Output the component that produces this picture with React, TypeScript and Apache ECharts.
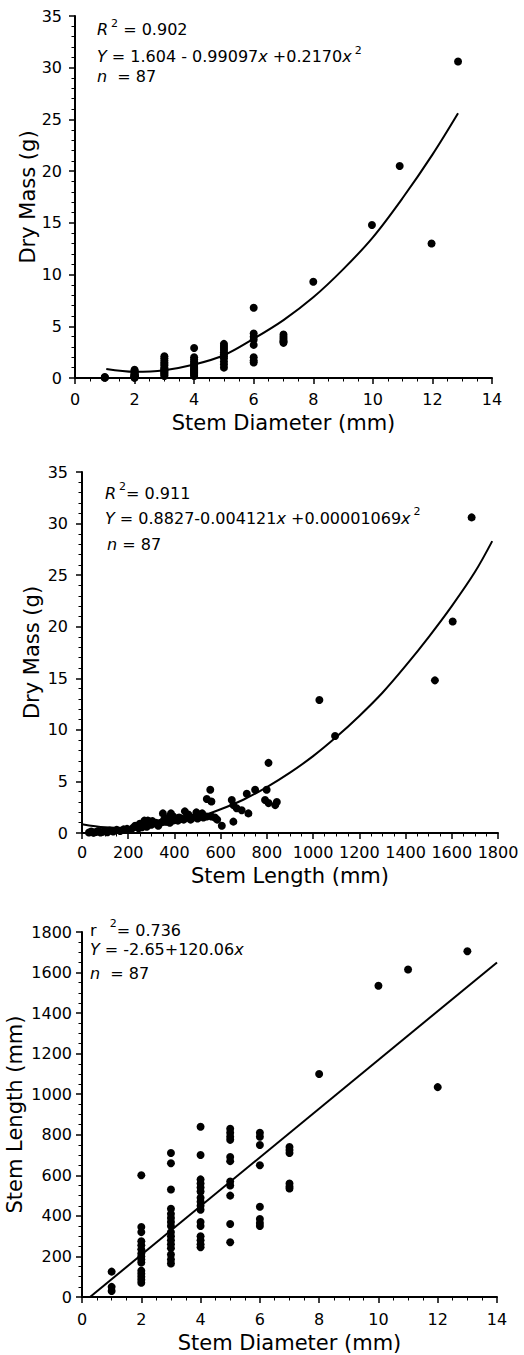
import React, { useEffect, useRef } from "react";
import * as echarts from "echarts";

const FONT = "DejaVu Sans";
const INK = "#000000";

// ---------- Panel 1: Dry mass vs stem diameter ----------
const p1Diameter = [
  1, 1, 1,
  2, 2, 2, 2, 2, 2, 2, 2, 2, 2, 2, 2, 2, 2, 2,
  3, 3, 3, 3, 3, 3, 3, 3, 3, 3, 3, 3, 3, 3, 3,
  4, 4, 4, 4, 4, 4, 4, 4, 4, 4, 4, 4, 4, 4, 4, 4,
  5, 5, 5, 5, 5, 5, 5, 5, 5, 5, 5,
  6, 6, 6, 6, 6, 6, 6, 6,
  7, 7, 7, 7, 7, 7,
  8, 9.97, 10.9, 11.97, 12.86,
];
const p1Mass = [
  0.1, 0.05, 0.03,
  0.8, 0.7, 0.6, 0.5, 0.4, 0.35, 0.3, 0.25, 0.2, 0.15, 0.12, 0.1, 0.08, 0.05, 0.03,
  2.1, 1.9, 1.7, 1.5, 1.35, 1.2, 1.0, 0.9, 0.8, 0.7, 0.6, 0.5, 0.4, 0.3, 0.2,
  2.9, 2.0, 1.8, 1.6, 1.45, 1.3, 1.15, 1.0, 0.9, 0.8, 0.7, 0.6, 0.5, 0.4, 0.3, 0.2,
  3.3, 3.1, 2.9, 2.7, 2.5, 2.3, 2.1, 1.9, 1.6, 1.3, 1.0,
  6.8, 4.3, 4.0, 3.7, 3.2, 2.0, 1.7, 1.5,
  4.2, 4.0, 3.8, 3.6, 3.5, 3.4,
  9.3, 14.8, 20.5, 13.0, 30.6,
];
const p1FitDiameter = [1.05, 2, 3, 4, 5, 6, 7, 8, 9, 10, 11, 12, 12.86];
const p1FitMass = [0.87, 0.6, 0.75, 1.3, 2.2, 3.8, 5.6, 7.8, 10.5, 13.6, 17.4, 21.6, 25.6];

// ---------- Panel 2: Dry mass vs stem length ----------
const p2Length = [
  30, 40, 50, 60, 70, 80, 90, 100, 110, 120, 135, 150, 165, 180, 195, 210, 220, 235, 245, 255,
  265, 275, 285, 295, 300, 315, 330, 350, 365, 375, 385, 400, 415, 430, 445, 455, 470, 480, 495, 510,
  525, 540, 555, 540, 560, 575, 585, 605, 648, 655, 669, 691, 720, 655, 713, 749, 799, 792, 807, 843,
  836, 807, 1027, 1095, 1527, 1604, 1686,
  230, 250, 260, 270, 280, 290, 305, 320, 340, 355, 380, 395, 420, 440, 460, 500, 520, 560,
];
const p2Mass = [
  0.05, 0.15, 0.02, 0.1, 0.2, 0.05, 0.12, 0.2, 0.08, 0.25, 0.15, 0.3, 0.2, 0.35, 0.4, 0.3, 0.5, 0.6, 0.45, 0.7,
  0.9, 1.0, 1.2, 1.1, 0.8, 0.95, 0.7, 1.9, 1.1, 1.5, 1.9, 1.3, 1.2, 1.4, 2.1, 1.6, 1.3, 1.5, 2.0, 1.75,
  1.5, 1.6, 4.2, 3.3, 3.05, 1.5, 1.3, 0.7, 3.2, 2.7, 2.4, 2.2, 1.9, 1.1, 3.8, 4.2, 4.2, 3.2, 2.9, 3.0,
  2.7, 6.8, 12.9, 9.4, 14.8, 20.5, 30.6,
  0.7, 0.9, 0.55, 1.2, 0.6, 0.9, 1.15, 1.0, 1.0, 1.3, 1.0, 1.6, 1.5, 1.3, 1.8, 1.4, 1.9, 1.6,
];
const p2FitLength = [0, 100, 200, 300, 400, 500, 600, 700, 800, 900, 1000, 1100, 1200, 1300, 1400, 1500, 1600, 1700, 1775];
const p2FitMass = [0.85, 0.55, 0.5, 0.65, 0.95, 1.5, 2.3, 3.25, 4.45, 5.85, 7.45, 9.3, 11.35, 13.6, 16.2, 19.0, 22.0, 25.3, 28.3];

// ---------- Panel 3: Stem length vs stem diameter ----------
const p3Diameter = [
  1, 1, 1,
  2, 2, 2, 2, 2, 2, 2, 2, 2, 2, 2, 2, 2, 2, 2,
  3, 3, 3, 3, 3, 3, 3, 3, 3, 3, 3, 3, 3, 3, 3, 3,
  4, 4, 4, 4, 4, 4, 4, 4, 4, 4, 4, 4, 4, 4, 4, 4,
  5, 5, 5, 5, 5, 5, 5, 5, 5, 5, 5,
  6, 6, 6, 6, 6, 6, 6, 6,
  7, 7, 7, 7, 7, 7,
  8, 10, 11, 12, 13,
];
const p3Length = [
  125, 50, 30,
  600, 345, 320, 275, 255, 235, 215, 200, 185, 170, 130, 115, 100, 85, 70,
  710, 660, 530, 435, 410, 390, 370, 350, 320, 300, 280, 260, 240, 210, 185, 165,
  840, 700, 580, 560, 540, 520, 490, 470, 450, 430, 370, 350, 300, 280, 260, 245,
  830, 810, 790, 775, 690, 670, 570, 550, 500, 360, 270,
  810, 790, 750, 650, 445, 385, 365, 350,
  740, 725, 710, 560, 545, 535,
  1100, 1535, 1615, 1035, 1705,
];
const p3FitDiameter = [0.27, 14];
const p3FitLength = [0, 1650];

// ---------- Tick labels ----------
const diameterTicks = [0, 2, 4, 6, 8, 10, 12, 14];
const lengthTicks = [0, 200, 400, 600, 800, 1000, 1200, 1400, 1600, 1800];
const massTicks = [0, 5, 10, 15, 20, 25, 30, 35];

// ---------- Annotations (rich text) ----------
const p1Notes = [
  "{i|R}{s|2}{t| = 0.902}",
  "{i|Y}{t| = 1.604 - 0.99097}{i|x}{t| +0.2170}{i|x}{s|2}",
  "{i|n}{t|  = 87}",
];
const p2Notes = [
  "{i|R}{s|2}{t|= 0.911}",
  "{i|Y}{t| = 0.8827-0.004121}{i|x}{t| +0.00001069}{i|x}{s|2}",
  "{i|n}{t| = 87}",
];
const p3Notes = [
  "{t|r  }{s|2}{t|= 0.736}",
  "{i|Y}{t| = -2.65+120.06}{i|x}",
  "{i|n}{t|  = 87}",
];

const zip = (xs: number[], ys: number[]) => xs.map((x, i) => [x, ys[i]]);

const RICH = {
  t: { fontFamily: FONT, fontSize: 16, lineHeight: 24, fill: INK },
  i: { fontFamily: FONT, fontSize: 16, fontStyle: "italic", lineHeight: 24, fill: INK },
  s: { fontFamily: FONT, fontSize: 11, lineHeight: 12, verticalAlign: "top", fill: INK, padding: [0, 0, 0, 3] },
};

function note(x: number, y: number, text: string) {
  return {
    type: "text",
    x,
    y,
    silent: true,
    z: 10,
    style: { text, align: "left", verticalAlign: "top", fill: INK, font: `16px "${FONT}"`, rich: RICH },
  };
}

function axisCommon(ticks: number[], name: string, nameGap: number, labelMargin: number, minorSplit: number) {
  return {
    type: "value",
    min: ticks[0],
    max: ticks[ticks.length - 1],
    interval: ticks[1] - ticks[0],
    name,
    nameLocation: "middle",
    nameGap,
    nameMoveOverlap: false,
    nameTextStyle: { fontFamily: FONT, fontSize: 21, color: INK },
    axisLine: { show: true, onZero: false, lineStyle: { color: INK, width: 2 } },
    axisTick: { show: true, inside: false, length: 6, lineStyle: { color: INK, width: 1.5 } },
    minorTick: { show: true, splitNumber: minorSplit, length: 3.5, lineStyle: { color: INK, width: 1 } },
    axisLabel: {
      show: true,
      fontFamily: FONT,
      fontSize: 16,
      color: INK,
      margin: labelMargin,
      formatter: (v: number) => String(v),
    },
    splitLine: { show: false },
    minorSplitLine: { show: false },
  };
}

function scatter(idx: number, data: number[][]) {
  return {
    type: "scatter",
    xAxisIndex: idx,
    yAxisIndex: idx,
    data,
    symbol: "circle",
    symbolSize: 8,
    itemStyle: { color: INK, opacity: 1 },
    silent: true,
    z: 3,
  };
}

function fit(idx: number, data: number[][], smooth: boolean) {
  return {
    type: "line",
    xAxisIndex: idx,
    yAxisIndex: idx,
    data,
    smooth: smooth ? 0.35 : false,
    showSymbol: false,
    symbol: "none",
    lineStyle: { color: INK, width: 2 },
    silent: true,
    z: 2,
  };
}

export default function App() {
  const ref = useRef<HTMLDivElement>(null);

  useEffect(() => {
    if (!ref.current) return;
    const chart = echarts.init(ref.current, null, { renderer: "svg" });
    const gridBase = { containLabel: false, outerBoundsMode: "none" };
    const option = {
      animation: false,
      backgroundColor: "#ffffff",
      textStyle: { fontFamily: FONT },
      grid: [
        { ...gridBase, left: 75, top: 16, width: 417, height: 362 },
        { ...gridBase, left: 82, top: 472, width: 416, height: 361 },
        { ...gridBase, left: 82, top: 932, width: 415, height: 365 },
      ],
      xAxis: [
        { ...axisCommon(diameterTicks, "Stem Diameter (mm)", 34, 13, 4), gridIndex: 0 },
        { ...axisCommon(lengthTicks, "Stem Length (mm)", 32, 11, 4), gridIndex: 1 },
        { ...axisCommon(diameterTicks, "Stem Diameter (mm)", 35, 14, 4), gridIndex: 2 },
      ],
      yAxis: [
        { ...axisCommon(massTicks, "Dry Mass (g)", 37, 13, 5), gridIndex: 0 },
        { ...axisCommon(massTicks, "Dry Mass (g)", 40, 14, 5), gridIndex: 1 },
        { ...axisCommon(lengthTicks, "Stem Length (mm)", 57, 10, 4), gridIndex: 2 },
      ],
      series: [
        scatter(0, zip(p1Diameter, p1Mass)),
        fit(0, zip(p1FitDiameter, p1FitMass), true),
        scatter(1, zip(p2Length, p2Mass)),
        fit(1, zip(p2FitLength, p2FitMass), true),
        scatter(2, zip(p3Diameter, p3Length)),
        fit(2, zip(p3FitDiameter, p3FitLength), false),
      ],
      graphic: [
        note(97, 17.5, p1Notes[0]),
        note(97, 44.5, p1Notes[1]),
        note(97, 64.5, p1Notes[2]),
        note(105, 481, p2Notes[0]),
        note(105, 506, p2Notes[1]),
        note(107, 532.5, p2Notes[2]),
        note(90, 918, p3Notes[0]),
        note(90, 937.5, p3Notes[1]),
        note(90, 961.5, p3Notes[2]),
      ],
    };
    chart.setOption(option as any);
    return () => chart.dispose();
  }, []);

  return (
    <div
      ref={ref}
      style={{ position: "absolute", left: 0, top: 0, width: 524, height: 1355, background: "#fff" }}
    />
  );
}
